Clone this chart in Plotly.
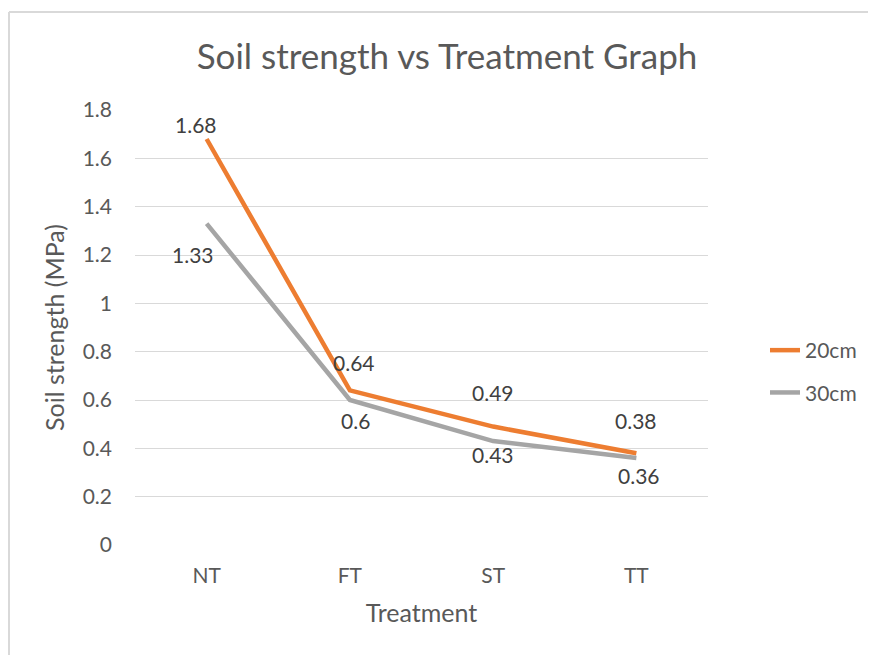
import plotly.graph_objects as go

categories = ["NT", "FT", "ST", "TT"]
s20 = [1.68, 0.64, 0.49, 0.38]
s30 = [1.33, 0.60, 0.43, 0.36]
yticks = [0, 0.2, 0.4, 0.6, 0.8, 1.0, 1.2, 1.4, 1.6, 1.8]
ytick_text = ["0", "0.2", "0.4", "0.6", "0.8", "1", "1.2", "1.4", "1.6", "1.8"]

# label offsets (px) relative to each point: (dx, dy_up)
off20 = [(-11, 15), (4, 28), (0, 34), (0, 33)]
off30 = [(-14, -31), (6, -20), (0, -13), (3, -17)]

FONT = "Lato"
W, H = 876, 655
OFF = 8  # page body margin
L, R, T, B = 135 - OFF, 876 - 708 + OFF, 110 - OFF, 655 - 545 + OFF
pw, ph = W - L - R, H - T - B

def px_x(x):  # page px -> paper
    return (x - OFF - L) / pw

def px_y(y):
    return (H - B - (y - OFF)) / ph

fig = go.Figure()
fig.add_trace(go.Scatter(
    x=categories, y=s20, name="20cm", mode="lines",
    line=dict(color="#ED7D31", width=4.5), legendgroup="a",
))
fig.add_trace(go.Scatter(
    x=categories, y=s30, name="30cm", mode="lines",
    line=dict(color="#A5A5A5", width=4.5), legendgroup="b",
))

annotations = []
for series, offs in ((s20, off20), (s30, off30)):
    for c, v, (dx, dy) in zip(categories, series, offs):
        annotations.append(dict(
            x=c, y=v, xref="x", yref="y", text=("%g" % v), showarrow=False,
            xshift=dx, yshift=dy, xanchor="center", yanchor="middle",
            font=dict(family=FONT, size=21, color="#404040"),
        ))

fig.update_layout(
    width=W, height=H,
    margin=dict(l=L, r=R, t=T, b=B),
    paper_bgcolor="white", plot_bgcolor="white",
    font=dict(family=FONT, color="#595959"),
    title=dict(text="Soil strength vs Treatment Graph", x=(447 - OFF) / W, xanchor="center",
               y=1 - (57 - OFF) / H, yanchor="middle",
               font=dict(family=FONT, size=35, color="#595959")),
    showlegend=True,
    legend=dict(x=px_x(765), xanchor="left", y=px_y(330), yanchor="top",
                font=dict(family=FONT, size=21, color="#595959"),
                tracegroupgap=12, bgcolor="rgba(0,0,0,0)"),
    xaxis=dict(type="category", range=[-0.5, 3.5], showgrid=False, showline=False,
               zeroline=False, ticks="", tickfont=dict(family=FONT, size=21, color="#595959"),
               ticklabelstandoff=16,
               title=dict(text="Treatment", font=dict(family=FONT, size=25, color="#595959"),
                          standoff=18)),
    yaxis=dict(range=[0, 1.8], tickvals=yticks, ticktext=ytick_text,
               showgrid=True, gridcolor="#D9D9D9", gridwidth=1.3, zeroline=False,
               showline=False, ticks="", tickfont=dict(family=FONT, size=21, color="#595959"),
               ticklabelstandoff=22,
               title=dict(text="Soil strength (MPa)", font=dict(family=FONT, size=25, color="#595959"),
                          standoff=10)),
    annotations=annotations,
    shapes=[
        dict(type="line", xref="paper", yref="paper",
             x0=px_x(9), x1=px_x(W + 20), y0=px_y(12), y1=px_y(12),
             line=dict(color="#D9D9D9", width=2)),
        dict(type="line", xref="paper", yref="paper",
             x0=px_x(9), x1=px_x(9), y0=px_y(12), y1=px_y(H + 20),
             line=dict(color="#D9D9D9", width=2)),
    ],
)

fig.write_html("out.html")
